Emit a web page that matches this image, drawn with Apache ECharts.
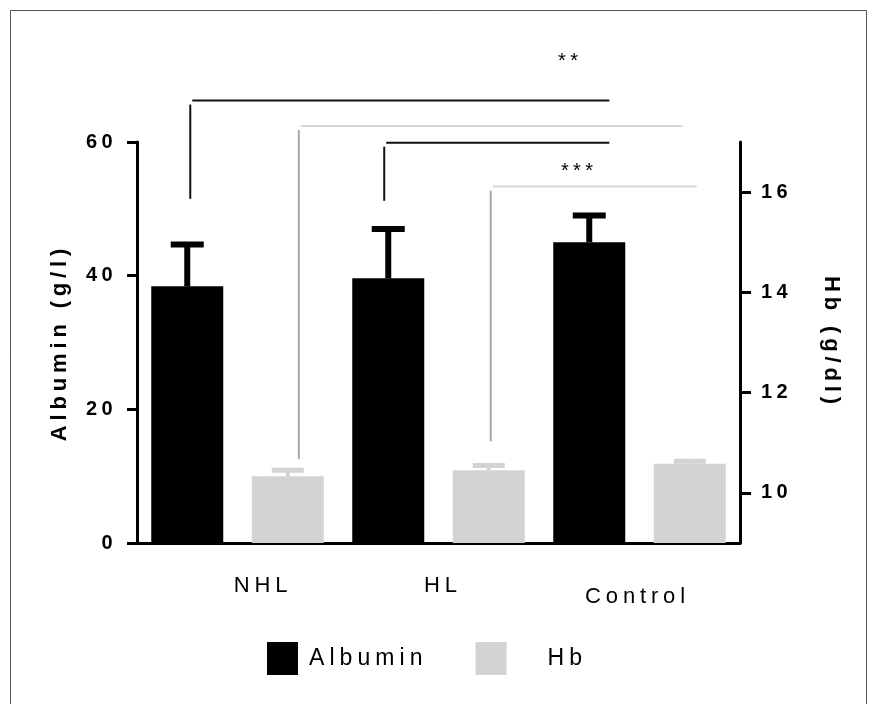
<!DOCTYPE html>
<html>
<head>
<meta charset="utf-8">
<title>Albumin and Hb</title>
<script src="https://cdn.jsdelivr.net/npm/echarts@6/dist/echarts.min.js"></script>
<style>
  html, body { margin: 0; padding: 0; background: #fff; }
  #chart { width: 874px; height: 704px; }
</style>
</head>
<body>
<div id="chart"></div>
<script>
// values
const groups = ['NHL', 'HL', 'Control'];
const albumin = [38.4, 39.6, 45.0];      // g/l
const albuminErr = [6.25, 7.4, 4.0];
const hb = [10.33, 10.45, 10.58];        // g/dl
const hbErr = [0.12, 0.095, 0.05];
const albuminTicks = [0, 20, 40, 60];
const hbTicks = [10, 12, 14, 16];

// significance brackets: [from bar, to bar, top, foot] (bar index 0..5, values in axis units)
const albuminBrackets = [
  [0.03, 4.2, 66.2, 51.5],
  [1.96, 4.2, 59.9, 51.2]
];
const hbBrackets = [
  [1.11, 4.93, 17.32, 10.67],
  [3.02, 5.07, 16.11, 11.03]
];
const stars = [
  ['**', 3.81, 72.0],
  ['***', 3.9, 55.6]
];

const FONT = '"Liberation Sans", Arial, sans-serif';

// the original export uses spaced-out lettering
const SPACING_EM = 0.22;
const spacingFor = font => {
  const m = /(\d+(?:\.\d+)?)px/.exec(font);
  return m ? (parseFloat(m[1]) * SPACING_EM).toFixed(2) + 'px' : '0px';
};
const measureCtx = document.createElement('canvas').getContext('2d');
if (echarts.setPlatformAPI) {
  echarts.setPlatformAPI({
    measureText(text, font) {
      measureCtx.font = font || '12px sans-serif';
      measureCtx.letterSpacing = spacingFor(measureCtx.font);
      return measureCtx.measureText(text);
    }
  });
}
const nativeFillText = CanvasRenderingContext2D.prototype.fillText;
CanvasRenderingContext2D.prototype.fillText = function (text, x, y, maxWidth) {
  this.letterSpacing = spacingFor(this.font);
  return maxWidth === undefined
    ? nativeFillText.call(this, text, x, y)
    : nativeFillText.call(this, text, x, y, maxWidth);
};

// six bar slots: albumin / hb for each group
const slots = groups.flatMap(g => [g + ' Albumin', g + ' Hb']);
const albuminBars = slots.map((s, i) => (i % 2 === 0 ? albumin[i / 2] : null));
const hbBars = slots.map((s, i) => (i % 2 === 1 ? hb[(i - 1) / 2] : null));

const slotX = (api, pos) => {
  const i = Math.floor(pos);
  return api.coord([i, 0])[0] + (pos - i) * api.size([1, 0])[0];
};

const errorBar = (color, stem, capW, capH) => (params, api) => {
  const base = api.coord([api.value(0), api.value(1)]);
  const top = api.coord([api.value(0), api.value(2)]);
  return {
    type: 'group',
    children: [
      { type: 'rect', shape: { x: base[0] - stem / 2, y: top[1], width: stem, height: base[1] - top[1] }, style: { fill: color } },
      { type: 'rect', shape: { x: base[0] - capW / 2, y: top[1] - capH / 2, width: capW, height: capH }, style: { fill: color } }
    ]
  };
};

const bracket = (list, hColor, vColor, width) => (params, api) => {
  const b = list[params.dataIndex];
  const x1 = slotX(api, b[0]);
  const x2 = slotX(api, b[1]);
  const y1 = api.coord([0, b[2]])[1];
  const y2 = api.coord([0, b[3]])[1];
  return {
    type: 'group',
    children: [
      { type: 'line', shape: { x1: x1 + 2, y1: y1, x2: x2, y2: y1 }, style: { stroke: hColor, lineWidth: width } },
      { type: 'line', shape: { x1: x1, y1: y1 + 4, x2: x1, y2: y2 }, style: { stroke: vColor, lineWidth: width } }
    ]
  };
};

const chart = echarts.init(document.getElementById('chart'));

const option = {
  animation: false,
  backgroundColor: '#fff',
  graphic: [{
    type: 'rect',
    shape: { x: 10.5, y: 10.5, width: 856, height: 720 },
    style: { fill: 'none', stroke: '#555', lineWidth: 1 },
    silent: true
  }],
  grid: {
    left: 137,
    right: 134,
    top: 142,
    bottom: 161,
    outerBoundsMode: 'none'
  },
  legend: {
    left: 262,
    top: 637,
    icon: 'rect',
    itemWidth: 31,
    itemHeight: 33,
    itemGap: 48,
    textStyle: { fontSize: 23, color: '#000', fontFamily: FONT, padding: [6, 0, 0, 6] },
    data: [
      { name: 'Albumin' },
      { name: 'Hb', textStyle: { padding: [6, 0, 0, 36] } }
    ]
  },
  xAxis: [
    {
      type: 'category',
      data: slots,
      axisLine: { lineStyle: { color: '#000', width: 3 } },
      axisTick: { alignWithLabel: true, length: 11, lineStyle: { color: '#000', width: 3 } },
      axisLabel: { show: false }
    },
    {
      type: 'category',
      data: groups,
      position: 'bottom',
      axisLine: { show: false },
      axisTick: { show: false },
      axisLabel: {
        interval: 0,
        margin: 30,
        fontSize: 22,
        color: '#000',
        fontFamily: FONT,
        formatter: (v, i) => '{g' + i + '|' + v + '}',
        rich: {
          g0: { fontSize: 22, color: '#000', fontFamily: FONT, padding: [0, 0, 0, 51] },
          g1: { fontSize: 22, color: '#000', fontFamily: FONT, padding: [0, 0, 0, 9] },
          g2: { fontSize: 22, color: '#000', fontFamily: FONT, padding: [11, 4, 0, 0] }
        }
      }
    }
  ],
  yAxis: [
    {
      type: 'value',
      min: albuminTicks[0],
      max: albuminTicks[albuminTicks.length - 1],
      interval: 20,
      name: 'Albumin (g/l)',
      nameLocation: 'middle',
      nameGap: 64,
      nameTextStyle: { fontSize: 22, fontWeight: 'bold', color: '#000', fontFamily: FONT },
      axisLine: { show: true, lineStyle: { color: '#000', width: 3 } },
      axisTick: { show: true, length: 10, lineStyle: { color: '#000', width: 3 } },
      axisLabel: { margin: 20, fontSize: 20, fontWeight: 'bold', color: '#000', fontFamily: FONT },
      splitLine: { show: false }
    },
    {
      type: 'value',
      position: 'right',
      min: 9,
      max: 17,
      name: 'Hb (g/dl)',
      nameLocation: 'middle',
      nameRotate: -90,
      nameGap: 78,
      nameTextStyle: { fontSize: 22, fontWeight: 'bold', color: '#000', fontFamily: FONT },
      axisLine: { show: true, lineStyle: { color: '#000', width: 3 } },
      axisTick: { show: true, length: 11, customValues: hbTicks, lineStyle: { color: '#000', width: 3 } },
      axisLabel: { margin: 21, fontSize: 20, fontWeight: 'bold', color: '#000', fontFamily: FONT, customValues: hbTicks },
      splitLine: { show: false }
    }
  ],
  series: [
    {
      name: 'Albumin',
      type: 'bar',
      yAxisIndex: 0,
      data: albuminBars,
      barWidth: 72,
      barGap: '-100%',
      itemStyle: { color: '#000' }
    },
    {
      name: 'Hb',
      type: 'bar',
      yAxisIndex: 1,
      data: hbBars,
      barWidth: 72,
      barGap: '-100%',
      itemStyle: { color: '#d3d3d3' }
    },
    {
      type: 'custom',
      yAxisIndex: 0,
      renderItem: errorBar('#000', 6, 33, 6),
      data: albumin.map((v, g) => [2 * g, v, v + albuminErr[g]]),
      z: 3
    },
    {
      type: 'custom',
      yAxisIndex: 1,
      renderItem: errorBar('#d3d3d3', 4, 32, 5),
      data: hb.map((v, g) => [2 * g + 1, v, v + hbErr[g]]),
      z: 3
    },
    {
      type: 'custom',
      yAxisIndex: 0,
      renderItem: bracket(albuminBrackets, '#111', '#111', 2),
      data: albuminBrackets.map(b => [Math.floor(b[0]), b[2]]),
      z: 4
    },
    {
      type: 'custom',
      yAxisIndex: 1,
      renderItem: bracket(hbBrackets, '#d6d6d6', '#a8a8a8', 2),
      data: hbBrackets.map(b => [Math.floor(b[0]), b[2]]),
      z: 4
    },
    {
      type: 'custom',
      yAxisIndex: 0,
      renderItem: (params, api) => {
        const s = stars[params.dataIndex];
        return {
          type: 'text',
          x: slotX(api, s[1]),
          y: api.coord([0, s[2]])[1],
          style: {
            text: s[0],
            fill: '#000',
            fontSize: 20,
            fontFamily: FONT,
            align: 'center',
            verticalAlign: 'middle'
          }
        };
      },
      data: stars.map(s => [Math.floor(s[1]), s[2]]),
      z: 4
    }
  ]
};

chart.setOption(option);
</script>
</body>
</html>
